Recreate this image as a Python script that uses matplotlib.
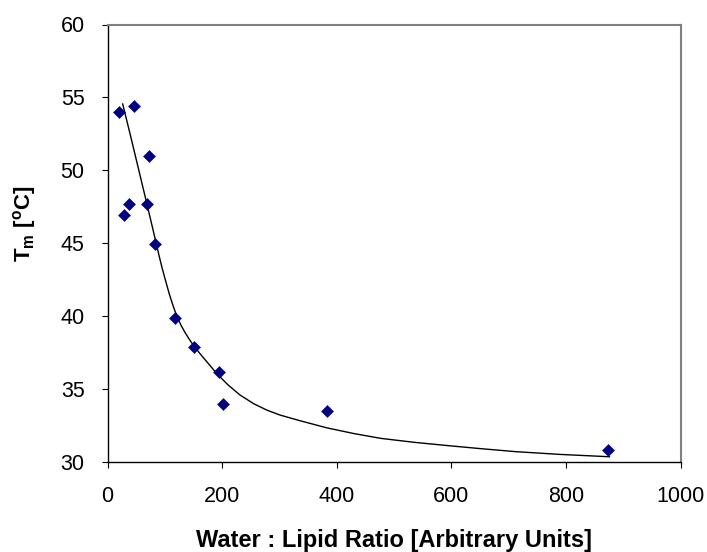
import matplotlib
matplotlib.use("Agg")
import matplotlib.pyplot as plt

plt.rcParams['font.family'] = ['Liberation Sans', 'DejaVu Sans']
plt.rcParams['mathtext.fontset'] = 'custom'
plt.rcParams['mathtext.rm'] = 'Liberation Sans'
plt.rcParams['mathtext.bf'] = 'Liberation Sans:bold'

# measured points
ratio = [20.1, 46.3, 73.0, 37.6, 29.3, 69.0, 82.4, 117.4, 151.6, 195.3, 202.3, 382.4, 873.9]
tm = [53.98, 54.39, 50.98, 47.71, 46.93, 47.67, 44.95, 39.9, 37.9, 36.2, 33.95, 33.47, 30.84]

# trend curve
curve_x = [26.5, 40, 55, 68.5, 82, 90, 95, 101, 108, 115, 121, 128, 135, 143, 150,
           162, 176, 191, 210, 231, 255, 278, 301, 336, 383, 430, 477, 535, 595,
           650, 712, 790, 876]
curve_y = [54.55, 52.4, 49.95, 47.74, 45.5, 44.15, 43.35, 42.48, 41.5, 40.65, 40.0,
           39.4, 38.9, 38.4, 38.0, 37.4, 36.75, 36.05, 35.3, 34.6, 34.0, 33.56, 33.22,
           32.83, 32.34, 31.95, 31.62, 31.35, 31.12, 30.92, 30.71, 30.52, 30.36]

xticks = [0, 200, 400, 600, 800, 1000]
yticks = [30, 35, 40, 45, 50, 55, 60]

W, H = 707, 552
fig = plt.figure(figsize=(W / 100, H / 100), dpi=100)
left, right, top, bottom = 107.5, 680.5, 24.5, 462.0
ax = fig.add_axes([left / W, 1 - bottom / H, (right - left) / W, (bottom - top) / H])

ax.plot(curve_x, curve_y, color='black', lw=1.0, zorder=2, solid_joinstyle='round')
ax.plot(ratio, tm, linestyle='none', marker='D', ms=6.6, color='#000080',
        markeredgewidth=0.4, markeredgecolor='#000080', zorder=3)

ax.set_xlim(0, 1000)
ax.set_ylim(30, 60)
ax.set_xticks(xticks)
ax.set_yticks(yticks)
ax.set_xticklabels([str(v) for v in xticks])
ax.set_yticklabels([str(v) for v in yticks])

for s in ['top', 'right']:
    ax.spines[s].set_color('#808080')
    ax.spines[s].set_linewidth(1.5)
for s in ['left', 'bottom']:
    ax.spines[s].set_color('black')
    ax.spines[s].set_linewidth(1.0)

ax.tick_params(axis='both', direction='out', length=4.5, width=0.8, color='black',
               labelsize=15.5, labelcolor='black')
ax.tick_params(axis='y', pad=12)
ax.tick_params(axis='x', pad=13)

ax.set_xlabel('Water : Lipid Ratio [Arbitrary Units]', fontsize=17, fontweight='bold')
ax.xaxis.set_label_coords(0.5, -0.152)
ax.set_ylabel(r'T$_\mathbf{m}$ [$^\mathbf{o}$C]', fontsize=16, fontweight='bold')
ax.yaxis.set_label_coords(-0.122, 0.545)

fig.savefig('out.png', dpi=100)
